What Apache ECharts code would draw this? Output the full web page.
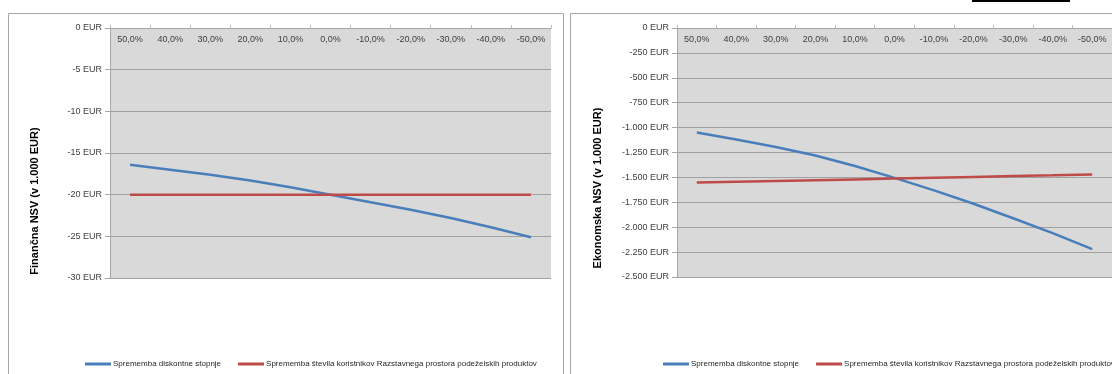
<!DOCTYPE html>
<html>
<head>
<meta charset="utf-8">
<script src="https://cdn.jsdelivr.net/npm/echarts@6/dist/echarts.min.js"></script>
<style>
  html, body { margin: 0; padding: 0; background: #ffffff; }
  #chart { width: 1112px; height: 374px; }
</style>
</head>
<body>
<div id="chart"></div>
<script>
// Sensitivity of NSV to changes in inputs (values in 1.000 EUR)
const categories = ['50,0%', '40,0%', '30,0%', '20,0%', '10,0%', '0,0%', '-10,0%', '-20,0%', '-30,0%', '-40,0%', '-50,0%'];

const seriesNames = [
  'Sprememba diskontne stopnje',
  'Sprememba števila koristnikov Razstavnega prostora podeželskih produktov'
];

// Financial NSV
const finDiscount = [-16.4, -17.0, -17.6, -18.3, -19.1, -20.0, -20.9, -21.8, -22.8, -23.9, -25.1];
const finUsers    = [-20.0, -20.0, -20.0, -20.0, -20.0, -20.0, -20.0, -20.0, -20.0, -20.0, -20.0];

// Economic NSV
const ecoDiscount = [-1050, -1120, -1195, -1280, -1385, -1505, -1630, -1765, -1910, -2060, -2220];
const ecoUsers    = [-1552, -1544, -1536, -1528, -1520, -1511, -1503, -1495, -1487, -1479, -1470];

const finTicks = { min: -30, max: 0, interval: 5 };
const ecoTicks = { min: -2500, max: 0, interval: 250 };

const axisTitles = ['Finančna NSV (v 1.000 EUR)', 'Ekonomska NSV (v 1.000 EUR)'];

const FONT = 'Liberation Sans, Arial, sans-serif';
const BLUE = '#4a7ebb';
const RED = '#be4b48';

function eur(v) {
  const s = Math.abs(v).toString().replace(/\B(?=(\d{3})+(?!\d))/g, '.');
  return (v < 0 ? '-' : '') + s + ' EUR';
}

function xAxisFor(gridIndex) {
  return {
    type: 'category', gridIndex, data: categories, position: 'top',
    boundaryGap: true,
    axisLine: { show: true, lineStyle: { color: '#a6a6a6', width: 1 } },
    axisTick: { show: true, inside: false, length: 3, lineStyle: { color: '#bdbdbd' } },
    axisLabel: { inside: true, margin: 7, fontSize: 9, fontFamily: FONT, color: '#404040' },
    splitLine: { show: false }
  };
}

function yAxisFor(gridIndex, t) {
  return {
    type: 'value', gridIndex, min: t.min, max: t.max, interval: t.interval,
    axisLine: { show: true, lineStyle: { color: '#a6a6a6', width: 1 } },
    axisTick: { show: true, length: 5, lineStyle: { color: '#a6a6a6' } },
    axisLabel: { margin: 8, fontSize: 9, fontFamily: FONT, color: '#404040', formatter: eur },
    splitLine: { show: true, lineStyle: { color: '#a0a0a0', width: 1 } }
  };
}

function lineSeries(name, data, idx, color) {
  return {
    name, type: 'line', data, xAxisIndex: idx, yAxisIndex: idx,
    showSymbol: false, symbol: 'none', smooth: false,
    lineStyle: { color, width: 2.5 }, itemStyle: { color },
    emphasis: { disabled: true }, animation: false
  };
}

function legendFor(left) {
  return {
    left, top: 355, width: 1000, itemWidth: 26, itemHeight: 3, itemGap: 17, icon: 'rect',
    data: seriesNames,
    textStyle: { fontSize: 8, fontFamily: FONT, color: '#262626', padding: [0, 0, 0, -3] }
  };
}

const chart = echarts.init(document.getElementById('chart'), null, { renderer: 'canvas' });

chart.setOption({
  backgroundColor: '#ffffff',
  animation: false,
  grid: [
    { left: 110, top: 28, width: 441, height: 250, show: true, backgroundColor: '#d9d9d9', borderWidth: 0 },
    { left: 677, top: 28, width: 441, height: 249, show: true, backgroundColor: '#d9d9d9', borderWidth: 0 }
  ],
  xAxis: [xAxisFor(0), xAxisFor(1)],
  yAxis: [yAxisFor(0, finTicks), yAxisFor(1, ecoTicks)],
  legend: [legendFor(80), legendFor(658)],
  series: [
    lineSeries(seriesNames[0], finDiscount, 0, BLUE),
    lineSeries(seriesNames[1], finUsers, 0, RED),
    lineSeries(seriesNames[0], ecoDiscount, 1, BLUE),
    lineSeries(seriesNames[1], ecoUsers, 1, RED)
  ],
  graphic: [
    // chart frames
    { type: 'rect', shape: { x: 8.5, y: 13.5, width: 555, height: 380 }, style: { fill: 'none', stroke: '#a6a6a6', lineWidth: 1 }, silent: true, z: -1 },
    { type: 'rect', shape: { x: 570.5, y: 13.5, width: 600, height: 380 }, style: { fill: 'none', stroke: '#a6a6a6', lineWidth: 1 }, silent: true, z: -1 },
    // redaction bar in the page text line above
    { type: 'rect', shape: { x: 972, y: 0, width: 98, height: 2 }, style: { fill: '#000000' }, silent: true },
    // value-axis titles
    { type: 'text', x: 35, y: 201, rotation: Math.PI / 2,
      style: { text: axisTitles[0], font: 'bold 11px ' + FONT, fill: '#000000', textAlign: 'center', textVerticalAlign: 'middle' } },
    { type: 'text', x: 598, y: 188, rotation: Math.PI / 2,
      style: { text: axisTitles[1], font: 'bold 11px ' + FONT, fill: '#000000', textAlign: 'center', textVerticalAlign: 'middle' } }
  ]
});
</script>
</body>
</html>
